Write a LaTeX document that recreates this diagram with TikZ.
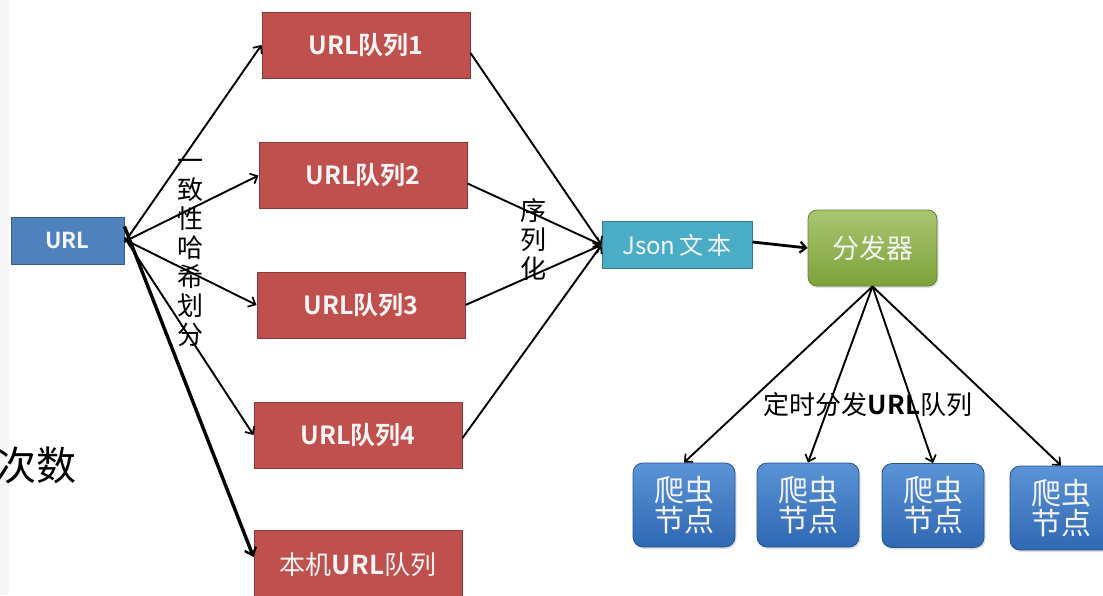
\documentclass[tikz,border=0pt]{standalone}
\usepackage{fontspec}
\setmainfont{Noto Sans CJK SC}
\newfontfamily\cjkb{Noto Sans CJK SC Bold}
\usetikzlibrary{arrows.meta,shadows}
\definecolor{qred}{HTML}{C0504D}
\definecolor{qredline}{HTML}{8C3836}
\definecolor{ublue}{HTML}{4F81BD}
\definecolor{ubline}{HTML}{385D8A}
\definecolor{jteal}{HTML}{4BACC6}
\definecolor{jtline}{HTML}{357D91}
\definecolor{hgreen}{HTML}{9BBB59}
\definecolor{hgreendk}{HTML}{7DA23A}
\definecolor{cbluelt}{HTML}{5B93D6}
\definecolor{cbluedk}{HTML}{2F68B3}
\definecolor{boxtext}{HTML}{F4F4F4}
\tikzset{
  qbox/.style={draw=qredline, line width=1pt, fill=qred, minimum width=208pt,
    minimum height=66pt, text=boxtext, font=\cjkb\fontsize{25}{28}\selectfont},
  srcbox/.style={draw=ubline, line width=1pt, fill=ublue, minimum width=113pt,
    minimum height=47pt, text=boxtext, font=\cjkb\fontsize{22}{24}\selectfont},
  jbox/.style={draw=jtline, line width=1pt, fill=jteal, minimum width=150pt,
    minimum height=47pt, text=boxtext, font=\fontsize{24}{26}\selectfont},
  hubbox/.style={draw=hgreendk!80!black, line width=0.8pt, rounded corners=9pt,
    top color=hgreen!85!white, bottom color=hgreendk, minimum width=129pt,
    minimum height=76pt, text=boxtext, font=\fontsize{27}{30}\selectfont,
    drop shadow={shadow xshift=1.5pt, shadow yshift=-2pt, opacity=0.25}},
  crawlbox/.style={draw=cbluedk!80!black, line width=0.8pt, rounded corners=10pt,
    top color=cbluelt, bottom color=cbluedk, minimum width=102pt,
    minimum height=84pt, text=boxtext, align=center, inner sep=0pt,
    font=\fontsize{30}{30}\selectfont,
    drop shadow={shadow xshift=1.5pt, shadow yshift=-2pt, opacity=0.25}},
  link/.style={line width=1.9pt, -{Straight Barb[length=6pt,width=11pt,line width=1.7pt]}},
  boldlink/.style={line width=3.4pt, -{Straight Barb[length=7pt,width=12pt,line width=2.4pt]}},
  vlabel/.style={font=\fontsize{26}{29}\selectfont, align=center, inner sep=0pt},
  flabel/.style={font=\fontsize{26}{28}\selectfont, inner sep=1pt}
}
\begin{document}
\begin{tikzpicture}[x=1pt,y=-1pt]
\useasboundingbox (0,0) rectangle (1103,595);
\begin{scope}
\clip (0,0) rectangle (1103,595);
\fill[gray!7] (0,0) rectangle (9,595);

% source and hashed queues
\node[srcbox] (url) at (67.5,240.5) {URL};
\node[qbox] (q1) at (366,45) {URL队列1};
\node[qbox] (q2) at (363,175.5) {URL队列2};
\node[qbox] (q3) at (361,305) {URL队列3};
\node[qbox] (q4) at (358,435) {URL队列4};
\node[qbox, minimum height=70pt, font=\fontsize{26}{28}\selectfont] (local) at (358,565) {本机{\cjkb URL}队列};

% serialisation and dispatch
\node[jbox] (json) at (677,245) {Json\,文\,本};
\node[hubbox] (hub) at (872.5,248) {分发器};

% crawler nodes
\node[crawlbox] (c1) at (684,505) {爬虫\\节点};
\node[crawlbox] (c2) at (808,505) {爬虫\\节点};
\node[crawlbox] (c3) at (933,505.5) {爬虫\\节点};
\node[crawlbox] (c4) at (1061,508) {爬虫\\节点};

% hashing fan-out
\draw[link] ([yshift=-2pt]url.east) -- (q1.west);
\draw[link] ([yshift=-1pt]url.east) -- (q2.west);
\draw[link] ([yshift=1pt]url.east) -- (q3.west);
\draw[link] ([yshift=3pt]url.east) -- (q4.west);
\draw[boldlink] ([yshift=14pt]url.east) -- ([yshift=8pt]local.west);

% serialisation fan-in
\draw[link] ([yshift=-8pt]q1.east) -- (json.west);
\draw[link] ([yshift=-8pt]q2.east) -- (json.west);
\draw[link] (q3.east) -- (json.west);
\draw[link] ([yshift=-3pt]q4.east) -- (json.west);

\draw[line width=2.8pt, -{Straight Barb[length=6pt,width=11pt,line width=2.2pt]}] ([yshift=3pt]json.east) -- (hub.west);

% dispatch to crawlers
\draw[link] (hub.south) -- (c1.north);
\draw[link] (hub.south) -- (c2.north);
\draw[link] (hub.south) -- (c3.north);
\draw[link] (hub.south) -- (c4.north);

% labels
\node[vlabel] (hashlbl) at (190,253) {一\\致\\性\\哈\\希\\划\\分};
\node[vlabel] (serlbl) at (533,240) {序\\列\\化};
\node[flabel] (distlbl) at (868,405) {定时分发{\cjkb URL}队列};
\node[font=\fontsize{40}{44}\selectfont, anchor=east, inner sep=0pt] (cnt) at (77,465) {次数};
\end{scope}
\end{tikzpicture}
\end{document}
